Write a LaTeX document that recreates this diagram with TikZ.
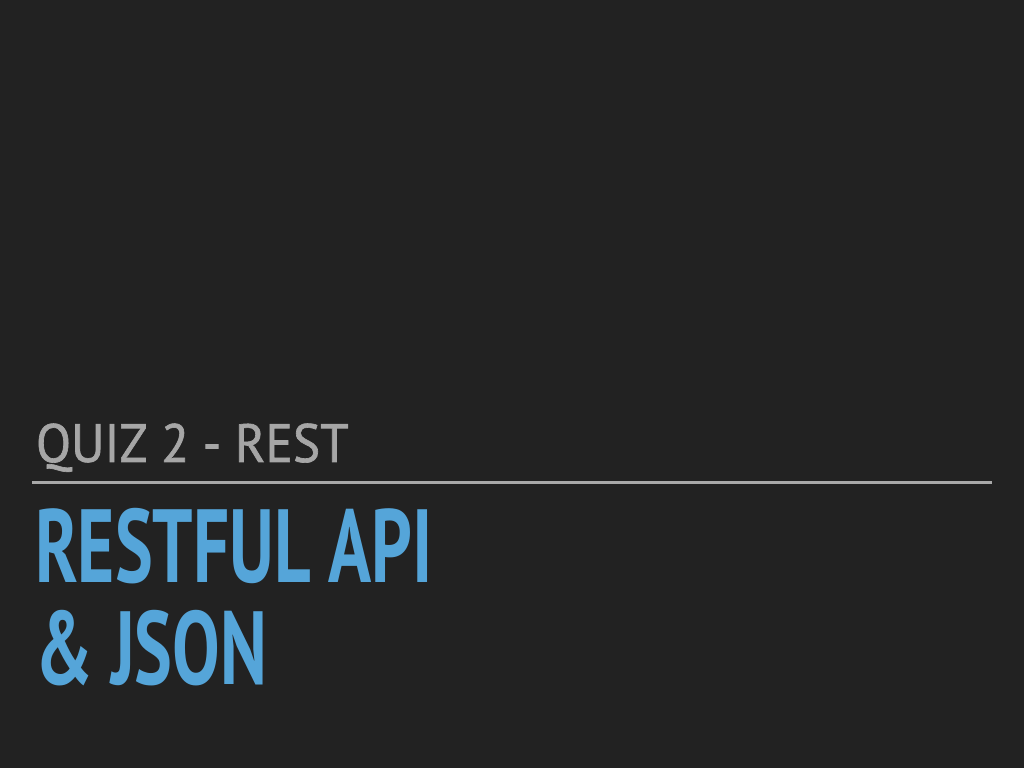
\documentclass[tikz,border=0pt]{standalone}
\usepackage{fontspec}
\newfontfamily\titlefont[FakeStretch=0.685]{PT Sans Bold}
\newfontfamily\subfont[FakeStretch=0.95,FakeBold=1.2]{PT Sans}
\definecolor{bg}{HTML}{222222}
\definecolor{subgray}{HTML}{A6A6A6}
\definecolor{rulegray}{HTML}{A9A9A9}
\definecolor{titleblue}{HTML}{55A5D9}
\begin{document}
\begin{tikzpicture}[x=1pt,y=1pt,
  txt/.style={anchor=base west,inner sep=0pt,outer sep=0pt}]
\fill[bg] (0,0) rectangle (1024,768);
\useasboundingbox (0,0) rectangle (1024,768);
\node[txt,text=subgray,font=\subfont\fontsize{54}{54}\selectfont] (sub) at (36,{768-462}) {QUIZ 2 - REST};
\coordinate (rl) at (32,{768-483});
\coordinate (rr) at (992,{768-483});
\draw[rulegray,line width=3pt] (rl) -- (rr);
\node[txt,text=titleblue,font=\titlefont\fontsize{104}{104}\selectfont] (t1) at (35,{768-583}) {RESTFUL API};
\node[txt,text=titleblue,font=\titlefont\fontsize{104}{104}\selectfont] (t2) at (35,{768-684}) {\&\ JSON};
\end{tikzpicture}
\end{document}
